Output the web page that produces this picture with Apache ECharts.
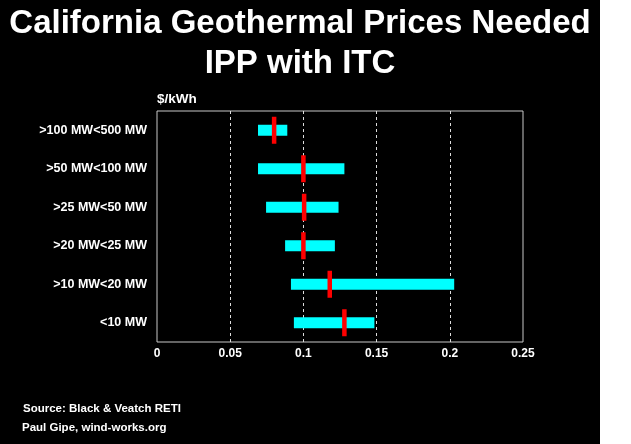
<!DOCTYPE html>
<html>
<head>
<meta charset="utf-8">
<script src="https://cdn.jsdelivr.net/npm/echarts@6/dist/echarts.min.js"></script>
<style>
html, body { margin: 0; padding: 0; background: #fff; }
#chart { width: 631px; height: 444px; }
</style>
</head>
<body>
<div id="chart"></div>
<script>
var categories = ['>100 MW<500 MW', '>50 MW<100 MW', '>25 MW<50 MW', '>20 MW<25 MW', '>10 MW<20 MW', '<10 MW'];
var lowValues  = [0.069, 0.069, 0.0745, 0.0875, 0.0915, 0.0935];
var highValues = [0.089, 0.128, 0.124, 0.1215, 0.203, 0.1485];
var midValues  = [0.08, 0.1, 0.1005, 0.1, 0.118, 0.128];
var xTicks = { min: 0, max: 0.25, interval: 0.05 };
var titleLines = ['California Geothermal Prices Needed', 'IPP with ITC'];
var unitLabel = '$/kWh';
var footerLines = ['Source: Black & Veatch RETI', 'Paul Gipe, wind-works.org'];

var FONT = 'Arial, "Liberation Sans", sans-serif';
var chart = echarts.init(document.getElementById('chart'));

var rangeData = categories.map(function (c, i) { return [i, lowValues[i], highValues[i]]; });
var midData = categories.map(function (c, i) { return [midValues[i], i]; });

chart.setOption({
  backgroundColor: '#ffffff',
  animation: false,
  graphic: [
    { type: 'rect', z: -10, silent: true, shape: { x: 0, y: 0, width: 600, height: 444 }, style: { fill: '#000' } },
    { type: 'text', x: 300, y: 23.5, style: { text: titleLines[0], fill: '#fff', font: 'bold 33px ' + FONT, textAlign: 'center', textVerticalAlign: 'middle' } },
    { type: 'text', x: 300, y: 63.5, style: { text: titleLines[1], fill: '#fff', font: 'bold 33px ' + FONT, textAlign: 'center', textVerticalAlign: 'middle' } },
    { type: 'text', x: 157, y: 99.5, style: { text: unitLabel, fill: '#fff', font: 'bold 13.5px ' + FONT, textAlign: 'left', textVerticalAlign: 'middle' } },
    { type: 'text', x: 23, y: 408.5, style: { text: footerLines[0], fill: '#fff', font: 'bold 11.5px ' + FONT, textAlign: 'left', textVerticalAlign: 'middle' } },
    { type: 'text', x: 22, y: 427.5, style: { text: footerLines[1], fill: '#fff', font: 'bold 11.5px ' + FONT, textAlign: 'left', textVerticalAlign: 'middle' } }
  ],
  grid: {
    left: 157, right: 108, top: 111, bottom: 102,
    show: true, borderColor: '#c8c8c8', borderWidth: 1, backgroundColor: 'transparent'
  },
  xAxis: {
    type: 'value', min: xTicks.min, max: xTicks.max, interval: xTicks.interval,
    axisLine: { show: false }, axisTick: { show: false },
    axisLabel: { color: '#fff', fontFamily: FONT, fontWeight: 'bold', fontSize: 12, margin: 6 },
    splitLine: { show: true, showMinLine: false, showMaxLine: false, lineStyle: { color: '#dddddd', type: [3, 3], width: 1 } }
  },
  yAxis: {
    type: 'category', data: categories, inverse: true,
    axisLine: { show: false }, axisTick: { show: false },
    axisLabel: { color: '#fff', fontFamily: FONT, fontWeight: 'bold', fontSize: 12.5, margin: 10 },
    splitLine: { show: false }
  },
  series: [
    {
      type: 'custom',
      data: rangeData,
      encode: { y: 0, x: [1, 2] },
      renderItem: function (params, api) {
        var a = api.coord([api.value(1), api.value(0)]);
        var b = api.coord([api.value(2), api.value(0)]);
        var h = 11;
        return { type: 'rect', shape: { x: a[0], y: a[1] - h / 2, width: b[0] - a[0], height: h }, style: { fill: '#00ffff' } };
      },
      z: 2
    },
    {
      type: 'scatter',
      data: midData,
      symbol: 'rect',
      symbolSize: [4.5, 27],
      itemStyle: { color: '#ff0000', opacity: 1 },
      z: 3
    }
  ]
});
</script>
</body>
</html>
